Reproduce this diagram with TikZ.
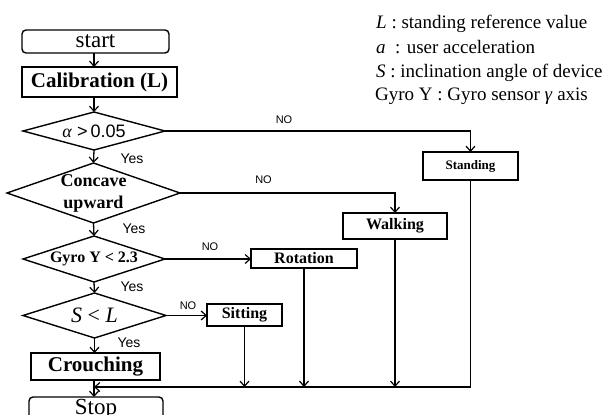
\documentclass[tikz,border=0pt]{standalone}
\usepackage{fontspec}
\setmainfont{Liberation Serif}
\newfontfamily\arialf{Liberation Sans}
\usetikzlibrary{shapes.geometric,arrows.meta}
\begin{document}
\begin{tikzpicture}[x=1pt,y=-1pt,
  box/.style={draw,line width=1.4pt,inner sep=0pt,outer sep=0pt,rectangle},
  term/.style={box,rounded corners=4pt},
  dia/.style={draw,line width=1.4pt,inner sep=0pt,outer sep=0pt,diamond},
  ln/.style={line width=1.3pt},
  arr/.style={ln,-{Straight Barb[length=5pt,width=9pt,line width=1.2pt]}},
  yes/.style={font=\arialf\fontsize{14}{14}\selectfont},
  no/.style={font=\arialf\fontsize{11}{11}\selectfont},
  lab/.style={font=\fontsize{19}{19}\selectfont,anchor=base west,inner sep=0pt}
]
\clip (0,0) rectangle (603,415);
\fill[white] (0,0) rectangle (603,415);
\coordinate (ax) at (94,0);
\coordinate (bot) at (94,387);

% main column
\node[term,minimum width=147pt,minimum height=23pt,font=\fontsize{23}{23}\selectfont] (start) at (95.5,41.5) {start};
\node[box,minimum width=155pt,minimum height=30pt,font=\bfseries\fontsize{21}{21}\selectfont] (calib) at (99.5,82) {Calibration (L)};
\node[dia,minimum width=142pt,minimum height=38pt] (d1) at (94,131) {};
\node[inner sep=0pt,font=\fontsize{18}{18}\selectfont] (d1t) at (d1.center) {\itshape α\/{\arialf\upshape\ >\,0.05}};
\node[dia,minimum width=173pt,minimum height=60pt] (d2) at (93.5,193) {};
\node[inner sep=0pt,align=center,font=\bfseries\fontsize{18}{22}\selectfont] (d2t) at (d2.center) {Concave\\upward};
\node[dia,minimum width=142pt,minimum height=46pt] (d3) at (94,259) {};
\node[inner sep=0pt,font=\bfseries\fontsize{16}{16}\selectfont] (d3t) at (d3.center) {Gyro Y \textless\ 2.3};
\node[dia,minimum width=143pt,minimum height=45pt] (d4) at (94.5,315.5) {};
\node[inner sep=0pt,font=\fontsize{22}{22}\selectfont] (d4t) at (d4.center) {\itshape S \textup{\textless} L};
\node[box,minimum width=129pt,minimum height=27pt,font=\bfseries\fontsize{21}{21}\selectfont] (crouch) at (95.5,366.5) {Crouching};
\node[term,minimum width=134pt,minimum height=25pt] (stop) at (96,409.5) {};
\node[anchor=base,inner sep=0pt,font=\fontsize{23}{23}\selectfont] (stopt) at (96,414) {Stop};

% outcome boxes
\node[box,minimum width=95pt,minimum height=28pt,font=\bfseries\fontsize{13}{13}\selectfont] (standing) at (470.5,166) {Standing};
\node[box,minimum width=104pt,minimum height=26pt,font=\bfseries\fontsize{16}{16}\selectfont] (walking) at (395,226) {Walking};
\node[box,minimum width=106pt,minimum height=19pt,font=\bfseries\fontsize{16}{16}\selectfont] (rotation) at (304,258.5) {Rotation};
\node[box,minimum width=75pt,minimum height=22pt,font=\bfseries\fontsize{16}{16}\selectfont] (sitting) at (244.5,315) {Sitting};

% main flow arrows
\draw[arr] (start.south -| ax) -- (calib.north -| ax);
\draw[arr] (calib.south -| ax) -- (d1.north);
\draw[arr] (d1.south) -- (d2.north);
\draw[arr] (d2.south) -- (d3.north);
\draw[arr] (d3.south) -- (d4.north);
\draw[arr] (d4.south) -- (d4.south |- crouch.north);
\draw[arr] (crouch.south -| ax) -- (stop.north -| ax);

% NO branches
\draw[arr] (d1.east) -| (standing.north);
\draw[arr] (d2.east) -| (walking.north);
\draw[arr] (d3.east) -- (d3.east -| rotation.west);
\draw[arr] (d4.east) -- (d4.east -| sitting.west);

% return lines
\draw[arr] (standing.south) |- (bot);
\draw[arr] (walking.south) -- (walking.south |- bot);
\draw[arr] (rotation.south) -- (rotation.south |- bot);
\draw[arr] (sitting.south) -- (sitting.south |- bot);

% labels
\node[yes] (y1) at (132,159) {Yes};
\node[yes] (y2) at (134,229) {Yes};
\node[yes] (y3) at (132,287) {Yes};
\node[yes] (y4) at (129,343) {Yes};
\node[no] (n1) at (284,120) {NO};
\node[no] (n2) at (263.5,180) {NO};
\node[no] (n3) at (210,247) {NO};
\node[no] (n4) at (188,306) {NO};

% legend
\node[lab] (l1) at (376,28) {\textit{L} : standing reference value};
\node[lab] (l2) at (376,53) {\textit{a}\ \ : user acceleration};
\node[lab] (l3) at (376,77) {\textit{S} : inclination angle of device};
\node[lab] (l4) at (375,100) {Gyro Y : Gyro sensor \textit{γ} axis};
\end{tikzpicture}
\end{document}
